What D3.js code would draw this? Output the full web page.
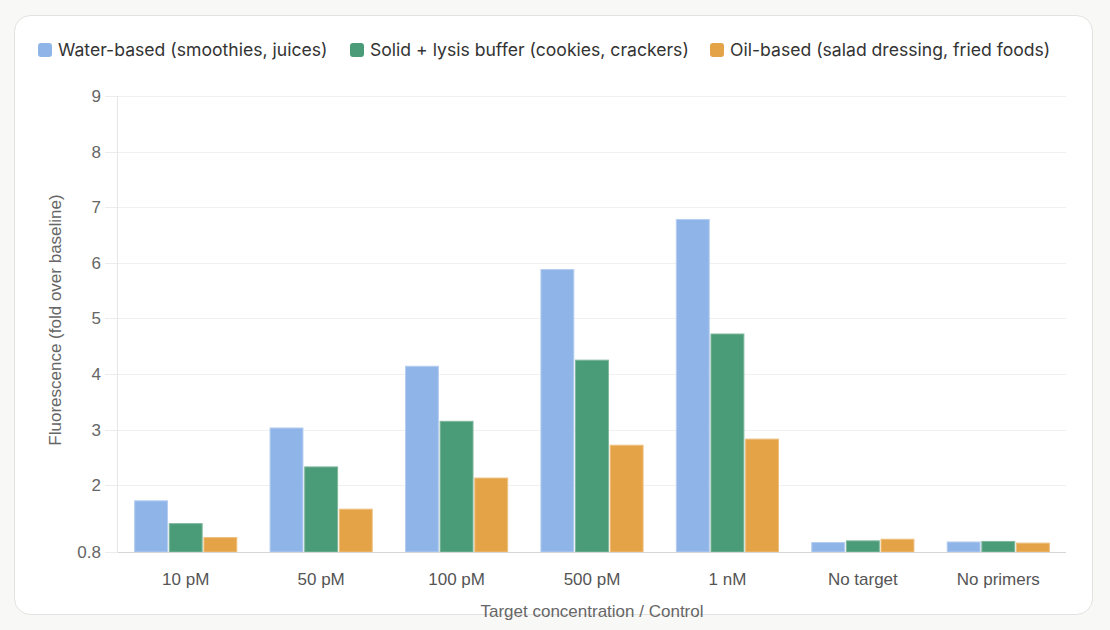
<!DOCTYPE html>
<html>
<head>
<meta charset="utf-8">
<script src="https://cdn.jsdelivr.net/npm/d3@7"></script>
<style>
  html, body { margin: 0; padding: 0; background: #f8f8f7; }
  svg { display: block; }
</style>
</head>
<body>
<script>
// data
var categories = ['10 pM', '50 pM', '100 pM', '500 pM', '1 nM', 'No target', 'No primers'];
var seriesNames = ['Water-based (smoothies, juices)', 'Solid + lysis buffer (cookies, crackers)', 'Oil-based (salad dressing, fried foods)'];
var waterVals = [1.72, 3.03, 4.14, 5.88, 6.78, 0.97, 0.98];
var solidVals = [1.31, 2.33, 3.15, 4.25, 4.72, 1.00, 0.99];
var oilVals = [1.06, 1.57, 2.13, 2.72, 2.83, 1.03, 0.96];
var yTicks = [0.8, 2, 3, 4, 5, 6, 7, 8, 9];

var colors = ['#8fb5e8', '#4a9b78', '#e4a346'];
var strokes = ['#b5cdf0', '#7fb79d', '#eec080'];

var width = 1110, height = 630;
var margin = {left: 118, right: 44, top: 96, bottom: 78};
var axisFont = '"Liberation Sans", Arial, sans-serif';

var svg = d3.select('body').append('svg')
    .attr('width', width)
    .attr('height', height)
    .style('font-family', 'Inter, "Noto Sans", sans-serif');

// card
svg.append('rect')
    .attr('x', 14.5).attr('y', 15.5)
    .attr('width', 1078).attr('height', 599)
    .attr('rx', 16)
    .attr('fill', '#ffffff')
    .attr('stroke', '#e2e2e0');

var x0 = d3.scaleBand()
    .domain(categories)
    .range([margin.left, width - margin.right])
    .paddingInner(0.22)
    .paddingOuter(0.11);

var x1 = d3.scaleBand()
    .domain(d3.range(3))
    .range([0, x0.bandwidth()])
    .padding(0.05);

var y = d3.scaleLinear()
    .domain([0.8, 9])
    .range([height - margin.bottom, margin.top]);

// grid
svg.append('g').selectAll('line')
    .data(yTicks.slice(1))
    .join('line')
    .attr('x1', margin.left).attr('x2', width - margin.right)
    .attr('y1', d => Math.round(y(d)) + 0.5).attr('y2', d => Math.round(y(d)) + 0.5)
    .attr('stroke', '#f0f0f0');

// y tick marks
svg.append('g').selectAll('line')
    .data(yTicks)
    .join('line')
    .attr('x1', 105).attr('x2', margin.left)
    .attr('y1', d => Math.round(y(d)) + 0.5).attr('y2', d => Math.round(y(d)) + 0.5)
    .attr('stroke', '#ececec');

// left axis line
svg.append('line')
    .attr('x1', margin.left - 0.5).attr('x2', margin.left - 0.5)
    .attr('y1', margin.top).attr('y2', y(0.8))
    .attr('stroke', '#e6e6e6');

// y tick labels
svg.append('g').selectAll('text')
    .data(yTicks)
    .join('text')
    .attr('x', 101)
    .attr('y', d => y(d))
    .attr('dy', '0.35em')
    .attr('text-anchor', 'end')
    .attr('fill', '#666')
    .style('font-family', axisFont)
    .style('font-size', '17px')
    .text(d => d);

// bars
var series = [waterVals, solidVals, oilVals];
var groups = svg.append('g').selectAll('g')
    .data(categories)
    .join('g')
    .attr('transform', d => `translate(${x0(d)},0)`);

groups.selectAll('rect')
    .data((d, i) => series.map((s, k) => ({k: k, v: s[i]})))
    .join('rect')
    .attr('x', d => x1(d.k))
    .attr('y', d => y(d.v))
    .attr('width', x1.bandwidth())
    .attr('height', d => y(0.8) - y(d.v))
    .attr('fill', d => colors[d.k])
    .attr('stroke', d => strokes[d.k])
    .attr('stroke-width', 1);

// bottom axis line
svg.append('line')
    .attr('x1', margin.left).attr('x2', width - margin.right)
    .attr('y1', Math.round(y(0.8)) + 0.5).attr('y2', Math.round(y(0.8)) + 0.5)
    .attr('stroke', '#d6d6d6');

// x tick labels
svg.append('g').selectAll('text')
    .data(categories)
    .join('text')
    .attr('x', d => x0(d) + x0.bandwidth() / 2)
    .attr('y', 585)
    .attr('text-anchor', 'middle')
    .attr('fill', '#555')
    .style('font-family', axisFont)
    .style('font-size', '17px')
    .text(d => d);

// axis titles
svg.append('text')
    .attr('x', 592).attr('y', 617)
    .attr('text-anchor', 'middle')
    .attr('fill', '#666')
    .style('font-family', axisFont)
    .style('font-size', '17px')
    .text('Target concentration / Control');

svg.append('text')
    .attr('transform', 'translate(61,320) rotate(-90)')
    .attr('text-anchor', 'middle')
    .attr('fill', '#666')
    .style('font-family', axisFont)
    .style('font-size', '17px')
    .text('Fluorescence (fold over baseline)');

// legend
var legendX = [38, 350, 710];
var legend = svg.append('g').selectAll('g')
    .data(seriesNames)
    .join('g')
    .attr('transform', (d, i) => `translate(${legendX[i]},43)`);

legend.append('rect')
    .attr('width', 14).attr('height', 14)
    .attr('rx', 3)
    .attr('fill', (d, i) => colors[i]);

legend.append('text')
    .attr('x', 20).attr('y', 7)
    .attr('dy', '0.35em')
    .attr('fill', '#333')
    .style('font-size', '17.6px')
    .text(d => d);
</script>
</body>
</html>
